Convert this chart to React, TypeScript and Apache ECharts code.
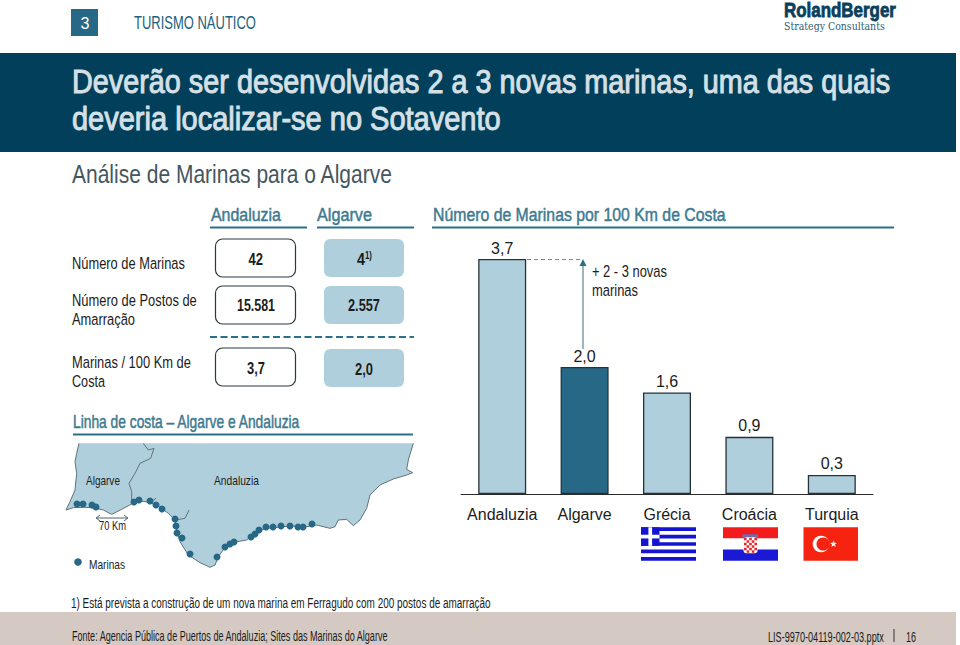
import React, { useEffect, useRef } from "react";
import * as echarts from "echarts";

const countries = ["Andaluzia", "Algarve", "Grécia", "Croácia", "Turquia"];
const marinasPer100Km = [3.7, 2.0, 1.6, 0.9, 0.3];
const highlighted = ["Algarve"];
const marinaPoints = [
  [77, 504], [83, 504], [92, 505], [96, 507], [134, 502], [139, 500], [150, 501], [156, 505],
  [162, 509], [175, 519], [176, 526], [177, 533], [182, 538], [190, 554], [217, 557], [225, 547],
  [230, 544], [234, 542], [251, 537], [255, 534], [259, 530], [266, 527], [273, 527], [281, 526],
  [290, 526], [298, 527], [303, 527], [312, 524],
];
const coastOutline = [
  [57,40],[50,70],[45,95],[50,130],[45,180],[30,215],[18,240],[40,233],[70,232],[100,233],[130,240],[155,253],
  [185,238],[215,222],[240,213],[270,217],[300,232],[325,250],[345,270],[350,300],[360,335],[385,375],[420,398],
  [450,412],[465,405],[475,380],[495,352],[520,337],[560,330],[590,305],[620,295],[690,288],[740,290],[770,285],
  [810,295],[825,290],[835,270],[860,268],[880,287],[900,270],[920,235],[930,195],[960,165],[1000,147],[1040,135],
  [1058,128],[1040,118],[1045,90],[1060,40],
];
const borderLine = [[250,40],[265,60],[282,55],[272,85],[240,100],[225,130],[207,160],[215,185],[215,222]];
const riverA = [[345,270],[375,265],[387,240]];
const riverB = [[270,217],[288,205]];

const LIGHT = "#b0cfdc";
const DARK = "#266885";
const HEAD = "#3f7a90";
const INK = "#1c1c1c";
const FONT = "'Liberation Sans', Arial, sans-serif";

const ctx = document.createElement("canvas").getContext("2d")!;
function T(text: string, x: number, y: number, size: number, w: number, fill = INK, bold = false, font = FONT, strokeW = 0): any {
  const weight = bold ? "bold" : "normal";
  ctx.font = `${weight} ${size}px ${font}`;
  const sx = w / ctx.measureText(text).width;
  return {
    type: "text", x, y, scaleX: sx, z: 10,
    style: {
      text, fontFamily: font, fontSize: size, fontWeight: weight, fill, verticalAlign: "middle", align: "left",
      ...(strokeW ? { stroke: fill, lineWidth: strokeW } : {}),
    },
  };
}
const rect = (x: number, y: number, width: number, height: number, fill: string, extra: any = {}, r = 0): any => ({
  type: "rect", z: extra.z ?? 3, shape: { x, y, width, height, r }, style: { fill, ...extra },
});
const line = (x1: number, y1: number, x2: number, y2: number, stroke: string, lineWidth = 2, lineDash?: number[]): any => ({
  type: "line", z: 3, shape: { x1, y1, x2, y2 }, style: { stroke, lineWidth, lineDash },
});
const mapPt = (p: number[]) => [60 + p[0] / 3, 430 + p[1] / 3];
const poly = (pts: number[][]): any => ({
  type: "polyline", z: 4, shape: { points: pts.map(mapPt) }, style: { stroke: "#5f727c", lineWidth: 1, fill: "none" },
});
const tri = (pts: number[][], fill: string): any => ({ type: "polygon", z: 5, shape: { points: pts }, style: { fill } });

function greece(): any[] {
  const x = 641, y = 527.3, w = 55, s = 33.4 / 9, out: any[] = [rect(x, y, w, 33.4, "#ffffff", { z: 5 })];
  for (let i = 0; i < 9; i += 2) out.push(rect(x, y + i * s, w, s, "#1414d2", { z: 6 }));
  out.push(rect(x, y, 5 * 3.7, 5 * s, "#1414d2", { z: 7 }));
  out.push(rect(x + 7.4, y, 3.7, 5 * s, "#ffffff", { z: 8 }));
  out.push(rect(x, y + 2 * s, 18.5, s, "#ffffff", { z: 8 }));
  return out;
}
function croatia(): any[] {
  const x = 723, y = 527.3, w = 55, h = 33.4, out: any[] = [
    rect(x, y, w, h / 3, "#f21c1c", { z: 5 }), rect(x, y + h / 3, w, h / 3, "#ffffff", { z: 5 }),
    rect(x, y + 2 * h / 3, w, h / 3, "#1a1ad6", { z: 5 }),
    rect(x + 19.5, y + 7, 15.5, 4, "#6b6fb0", { z: 6 }),
    rect(x + 20.5, y + 10, 14, 16, "#ffffff", { z: 6 }, 3),
  ];
  for (let r = 0; r < 6; r++) for (let c = 0; c < 5; c++)
    if ((r + c) % 2 === 0) out.push(rect(x + 21 + c * 2.6, y + 10.5 + r * 2.5, 2.6, 2.5, "#e3282c", { z: 7 }));
  return out;
}
function turkey(): any[] {
  const x = 803.5, y = 527.3;
  const star: number[][] = [];
  for (let i = 0; i < 10; i++) {
    const a = -Math.PI / 2 + i * Math.PI / 5, r = i % 2 ? 1.5 : 3.6;
    star.push([x + 30 + r * Math.cos(a), y + 16.7 + r * Math.sin(a)]);
  }
  return [
    rect(x, y, 54.5, 33.4, "#f5230f", { z: 5 }),
    { type: "circle", z: 6, shape: { cx: x + 17.5, cy: y + 16.7, r: 8.3 }, style: { fill: "#ffffff" } },
    { type: "circle", z: 7, shape: { cx: x + 19.6, cy: y + 16.7, r: 6.6 }, style: { fill: "#f5230f" } },
    { type: "polygon", z: 8, shape: { points: star }, style: { fill: "#ffffff" } },
  ];
}

function box(x: number, y: number, filled: boolean): any {
  return filled
    ? rect(x, y, 80, 38, LIGHT, {}, 6)
    : rect(x, y, 80, 38, "#ffffff", { stroke: "#2b3a42", lineWidth: 1.2 }, 7);
}

export default function App() {
  const ref = useRef<HTMLDivElement>(null);
  useEffect(() => {
    const chart = echarts.init(ref.current!, undefined, { renderer: "svg" });
    const elements: any[] = [
      rect(0, 53, 956, 99, "#023f5a", { z: 1 }),
      rect(0, 612, 956, 33, "#d4cac3", { z: 1 }),
      rect(71, 9, 27, 27, "#266885"),
      T("3", 80.5, 23, 17, 9, "#ffffff"),
      T("TURISMO NÁUTICO", 134, 23, 18, 122, "#215f7c"),
      T("RolandBerger", 784, 10, 20, 112, "#0b3f5c", true, FONT, 0.8),
      T("Strategy Consultants", 784, 26.5, 11, 101, "#2f5d75", false, "'DejaVu Serif', serif"),
      T("Deverão ser desenvolvidas 2 a 3 novas marinas, uma das quais", 72, 82, 33, 818, "#d5e0e6", false, FONT, 1),
      T("deveria localizar-se no Sotavento", 72, 119, 33, 429, "#d5e0e6", false, FONT, 1),
      T("Análise de Marinas para o Algarve", 72, 174, 26, 321, "#46565f"),
      T("Andaluzia", 211, 214, 19, 70, HEAD, false, FONT, 0.5),
      T("Algarve", 317, 214.5, 19, 55, HEAD, false, FONT, 0.5),
      T("Número de Marinas por 100 Km de Costa", 433, 214, 19, 293, HEAD, false, FONT, 0.5),
      line(210, 227.5, 307, 227.5, "#2c6f8c"),
      line(317, 227.5, 414, 227.5, "#2c6f8c"),
      line(432, 227.5, 894, 227.5, "#2c6f8c"),
      line(210, 337, 414, 337, "#2c6f8c", 2, [7, 3.5]),
      T("Número de Marinas", 72, 263, 17, 113),
      T("Número de Postos de", 72, 300, 17, 125),
      T("Amarração", 72, 319, 17, 63),
      T("Marinas / 100 Km de", 72, 362, 17, 119),
      T("Costa", 72, 381, 17, 33),
      box(215.5, 239, false), box(215.5, 286, false), box(215.5, 348, false),
      box(324, 239, true), box(324, 286, true), box(324, 349, true),
      T("42", 248.5, 259, 17, 14.5, INK, true),
      T("15.581", 237, 305, 17, 38, INK, true),
      T("3,7", 247, 368, 17, 18, INK, true),
      T("4", 357, 259, 17, 8, INK, true),
      T("1)", 365, 256, 10, 7, INK, true),
      T("2.557", 348, 305, 17, 32, INK, true),
      T("2,0", 355, 369, 17, 18, INK, true),
      T("Linha de costa – Algarve e Andaluzia", 73, 421.5, 18, 228, HEAD, false, FONT, 0.5),
      line(73, 434.5, 413, 434.5, "#2c6f8c"),
      { type: "polygon", z: 2, shape: { points: coastOutline.map(mapPt) }, style: { fill: LIGHT } },
      poly(coastOutline), poly(borderLine), poly(riverA), poly(riverB),
      T("Algarve", 86, 480, 13, 34),
      T("Andaluzia", 214, 480, 13, 45),
      line(97, 518, 127, 518, "#4e6470", 1),
      { type: "polyline", z: 4, shape: { points: [[100, 515], [96, 518], [100, 521]] }, style: { stroke: "#4e6470", fill: "none" } },
      { type: "polyline", z: 4, shape: { points: [[124, 515], [128, 518], [124, 521]] }, style: { stroke: "#4e6470", fill: "none" } },
      T("70 Km", 99, 525, 13, 27),
      { type: "circle", z: 4, shape: { cx: 78, cy: 562, r: 3.8 }, style: { fill: DARK } },
      T("Marinas", 89, 564, 13, 36),
      line(527, 259.5, 581, 259.5, "#6f8e9c", 1.2, [4, 3]),
      line(583, 349, 583, 264, "#5e8597", 1.2),
      tri([[583, 259], [579.5, 266], [586.5, 266]], "#2c6f8c"),
      T("+ 2 - 3 novas", 592, 271, 17, 75),
      T("marinas", 592, 290, 17, 46),
      ...greece(), ...croatia(), ...turkey(),
      T("1) Está prevista a construção de um nova marina em Ferragudo com 200 postos de amarração", 71, 603, 14, 420),
      T("Fonte: Agencia Pública de Puertos de Andaluzia; Sites das Marinas do Algarve", 72, 636, 14, 317),
      T("LIS-9970-04119-002-03.pptx", 768, 637, 14, 116),
      line(894, 629, 894, 642, "#333333", 1),
      T("16", 906, 637, 14, 10),
    ];
    chart.setOption({
      animation: false,
      backgroundColor: "#ffffff",
      textStyle: { fontFamily: FONT },
      grid: [
        { left: 461, top: 240, width: 412, height: 254 },
        { left: 0, top: 0, width: 960, height: 645 },
      ],
      xAxis: [
        {
          type: "category", gridIndex: 0, data: countries,
          axisLine: { lineStyle: { color: "#2a2a2a", width: 1 } }, axisTick: { show: false },
          axisLabel: { color: INK, fontSize: 16, fontFamily: FONT, margin: 12, interval: 0 },
        },
        { type: "value", gridIndex: 1, min: 0, max: 960, show: false },
      ],
      yAxis: [
        { type: "value", gridIndex: 0, min: 0, max: 4, show: false },
        { type: "value", gridIndex: 1, min: 0, max: 645, inverse: true, show: false },
      ],
      series: [
        {
          type: "bar", xAxisIndex: 0, yAxisIndex: 0, barWidth: 48, z: 5,
          data: marinasPer100Km.map((v, i) => ({
            value: v,
            itemStyle: { color: highlighted.includes(countries[i]) ? DARK : LIGHT, borderColor: "#26323a", borderWidth: 1.3 },
          })),
          label: {
            show: true, position: "top", distance: 3, color: INK, fontSize: 16, fontFamily: FONT,
            formatter: (p: any) => p.value.toFixed(1).replace(".", ","),
          },
        },
        {
          type: "scatter", xAxisIndex: 1, yAxisIndex: 1, symbolSize: 7, z: 6, silent: true,
          itemStyle: { color: DARK, opacity: 1 }, data: marinaPoints,
        },
      ],
      graphic: { elements },
    });
    return () => chart.dispose();
  }, []);
  return <div ref={ref} style={{ position: "absolute", left: 0, top: 0, width: 960, height: 645 }} />;
}
